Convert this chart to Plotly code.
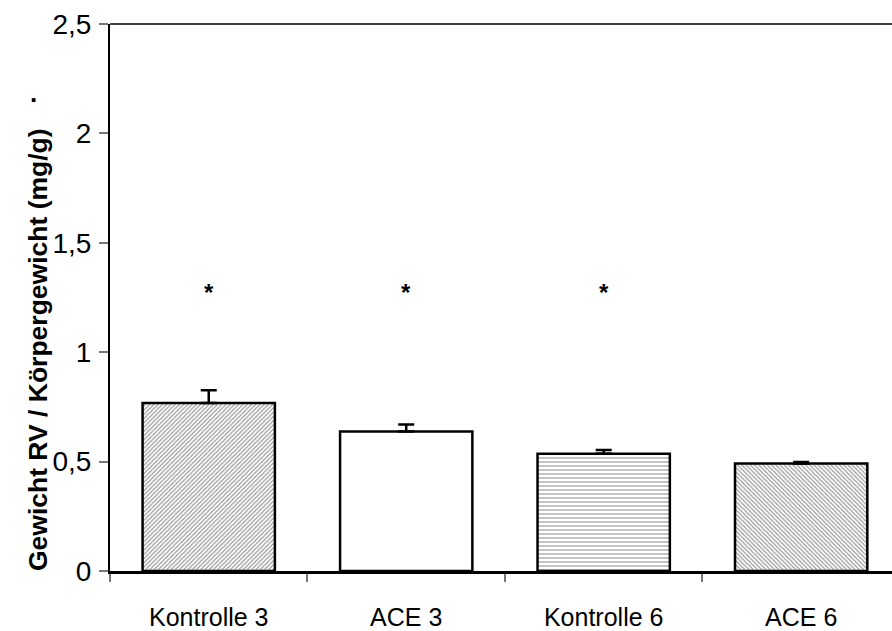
import plotly.graph_objects as go

categories = ["Kontrolle 3", "ACE 3", "Kontrolle 6", "ACE 6"]
values = [0.768, 0.638, 0.536, 0.491]
errors = [0.058, 0.032, 0.017, 0.007]
significant = [True, True, True, False]
y_ticks = [0, 0.5, 1, 1.5, 2, 2.5]
y_title = "Gewicht RV / Körpergewicht (mg/g)"

pattern_shapes = ["/", "", "-", "\\"]
pattern_sizes = [3, 8, 4, 3]
pattern_solidity = [0.4, 0.1, 0.3, 0.4]

fig = go.Figure()
fig.add_trace(go.Bar(
    x=categories,
    y=values,
    marker=dict(
        color="white",
        line=dict(color="black", width=2.5),
        pattern=dict(
            shape=pattern_shapes,
            size=pattern_sizes,
            solidity=pattern_solidity,
            fgcolor="#333333",
            bgcolor="white",
            fillmode="overlay",
        ),
    ),
    error_y=dict(
        type="data",
        symmetric=False,
        array=errors,
        arrayminus=[0] * len(errors),
        color="black",
        thickness=2.5,
        width=8,
    ),
    width=0.67,
    showlegend=False,
))

# significance markers
for cat, sig in zip(categories, significant):
    if sig:
        fig.add_annotation(
            x=cat, y=1.275, text="<b>*</b>", showarrow=False,
            font=dict(family="Liberation Sans", size=24, color="black"),
        )

# y-axis title, placed as a rotated annotation
fig.add_annotation(
    xref="paper", yref="paper", x=-0.092, y=0.404, text="<b>" + y_title + "</b>",
    showarrow=False, textangle=-90, xanchor="center", yanchor="middle",
    font=dict(family="Liberation Sans", size=26.5, color="black"),
)
fig.add_annotation(
    xref="paper", yref="paper", x=-0.105, y=0.905, text="<b>.</b>",
    showarrow=False,
    font=dict(family="Liberation Sans", size=26, color="black"),
)

# top frame line
fig.add_shape(type="line", xref="paper", yref="paper", x0=0, x1=1, y0=1, y1=1,
              line=dict(color="black", width=1.5))

fig.update_layout(
    width=892, height=631,
    margin=dict(l=110, r=0, t=24, b=57),
    paper_bgcolor="white", plot_bgcolor="white",
    separators=",.",
    font=dict(family="Liberation Sans", color="black"),
    xaxis=dict(
        type="category",
        range=[-0.5, 3.46],
        tickson="boundaries",
        ticks="outside", ticklen=8, tickcolor="#777777", tickwidth=1.5,
        showline=True, linecolor="black", linewidth=2.5,
        showgrid=False,
        ticklabelstandoff=22,
        tickfont=dict(family="Liberation Sans", size=25),
    ),
    yaxis=dict(
        range=[0, 2.5],
        tickvals=y_ticks,
        ticks="outside", ticklen=9, tickcolor="#777777", tickwidth=1.5,
        showline=True, linecolor="black", linewidth=2,
        showgrid=False, zeroline=False,
        ticklabelstandoff=2,
        tickfont=dict(family="Liberation Sans", size=28),
    ),
)

fig.write_html("out.html")
